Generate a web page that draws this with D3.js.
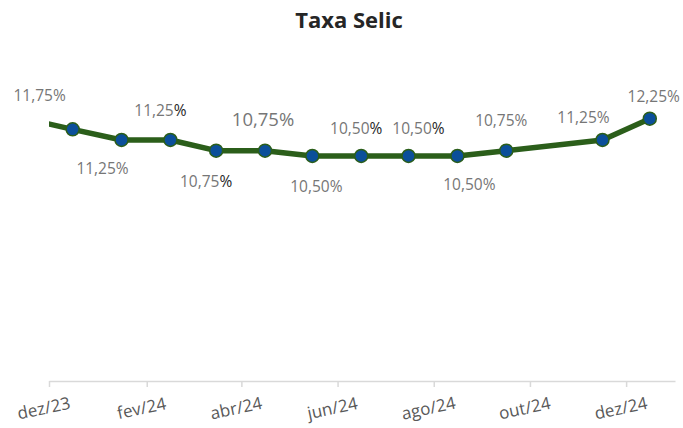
<!DOCTYPE html>
<html>
<head>
<meta charset="utf-8">
<script src="https://cdn.jsdelivr.net/npm/d3@7"></script>
<style>
  body { margin: 0; background: #fff; }
  text { font-family: "Open Sans", "Noto Sans", sans-serif; }
</style>
</head>
<body>
<script>
// Data: monthly Selic rate (mid-month), Oct/24 has no point
const months = ["2023-11-16", "2023-12-16", "2024-01-16", "2024-02-16", "2024-03-16", "2024-04-16",
  "2024-05-16", "2024-06-16", "2024-07-16", "2024-08-16", "2024-09-16", "2024-11-16", "2024-12-16"];
const rates = [12.25, 11.75, 11.25, 11.25, 10.75, 10.75, 10.50, 10.50, 10.50, 10.50, 10.75, 11.25, 12.25];
const tickMonths = ["2023-12-01", "2024-02-01", "2024-04-01", "2024-06-01", "2024-08-01", "2024-10-01", "2024-12-01"];
const tickLabels = ["dez/23", "fev/24", "abr/24", "jun/24", "ago/24", "out/24", "dez/24"];

// label placement (manual, like the original chart)
const labelDx = [0, -33, -19, -10, -10, -2, 4, -5, 10, 12, -5, -19, 4];
const labelDy = [0, -28, 34, -24, 36, -25, 36, -22, -22, 34, -25, -17, -17];
const labelBig = [false, false, false, false, false, true, false, false, false, false, false, false, false];
const labelDarkPct = [false, false, false, true, true, false, false, true, true, false, false, false, false];

const width = 683, height = 428;
const parse = d3.timeParse("%Y-%m-%d");
const data = months.map((m, i) => ({ date: parse(m), value: rates[i], i }));

const x = d3.scaleTime()
  .domain([parse("2023-12-01"), parse("2025-01-01")])
  .range([49, 675]);
const y = d3.scaleLinear().domain([0, 14]).range([380, 81.33]);

const svg = d3.select("body").append("svg")
  .attr("width", width)
  .attr("height", height);

// Title
svg.append("text")
  .attr("x", 349)
  .attr("y", 28)
  .attr("text-anchor", "middle")
  .attr("font-size", 22)
  .attr("font-weight", "bold")
  .attr("fill", "#262626")
  .text("Taxa Selic");

// Axis
const xAxis = d3.axisBottom(x)
  .tickValues(tickMonths.map(parse))
  .tickSize(6)
  .tickSizeOuter(0)
  .tickFormat("");
const gx = svg.append("g")
  .attr("transform", `translate(0,${y(0) + 1})`)
  .call(xAxis);
gx.select(".domain").attr("stroke", "#d9d9d9").attr("stroke-width", 1.5);
gx.selectAll(".tick line").attr("stroke", "#d9d9d9").attr("stroke-width", 1.5);

svg.append("g")
  .selectAll("text")
  .data(tickMonths)
  .join("text")
  .attr("transform", d => `translate(${x(parse(d)) - 4},${414}) rotate(-12)`)
  .attr("text-anchor", "middle")
  .attr("font-size", 17)
  .attr("fill", "#595959")
  .text((d, i) => tickLabels[i]);

// Clip to plot area
svg.append("clipPath").attr("id", "plot")
  .append("rect").attr("x", 49).attr("y", 0).attr("width", 640).attr("height", 380);

const plot = svg.append("g").attr("clip-path", "url(#plot)");

const line = d3.line().x(d => x(d.date)).y(d => y(d.value));
plot.append("path")
  .datum(data)
  .attr("d", line)
  .attr("fill", "none")
  .attr("stroke", "#2b5e1a")
  .attr("stroke-width", 5.5)
  .attr("stroke-linejoin", "round");

plot.append("g")
  .selectAll("circle")
  .data(data.slice(1))
  .join("circle")
  .attr("cx", d => x(d.date))
  .attr("cy", d => y(d.value))
  .attr("r", 6.5)
  .attr("fill", "#0b4f9a")
  .attr("stroke", "#2b5e1a")
  .attr("stroke-width", 1.5);

// Data labels
const fmt = v => v.toFixed(2).replace(".", ",");
const labels = svg.append("g")
  .selectAll("text")
  .data(data.slice(1))
  .join("text")
  .attr("x", d => x(d.date) + labelDx[d.i])
  .attr("y", d => y(d.value) + labelDy[d.i])
  .attr("text-anchor", "middle")
  .attr("font-size", d => labelBig[d.i] ? 18.5 : 15.5)
  .attr("fill", "#767676");
labels.append("tspan").text(d => fmt(d.value));
labels.append("tspan")
  .attr("fill", d => labelDarkPct[d.i] ? "#262626" : "#767676")
  .text("%");
</script>
</body>
</html>
